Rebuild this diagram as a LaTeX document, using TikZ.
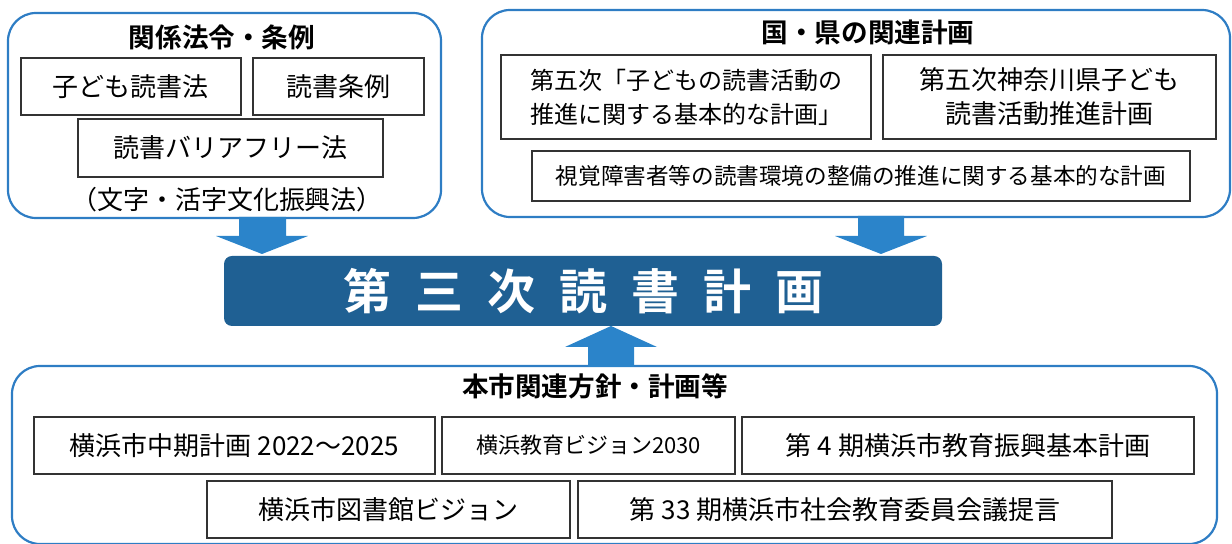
\documentclass[tikz,border=0pt]{standalone}
\usepackage{fontspec}
\setmainfont{Noto Sans CJK JP}[BoldFont={Noto Sans CJK JP Bold}]
\usetikzlibrary{positioning}
\definecolor{wakuiro}{RGB}{46,125,196}
\definecolor{yajiiro}{RGB}{43,132,202}
\definecolor{obiiro}{RGB}{31,96,147}
\newcommand{\aki}{\hspace{12pt}}
\tikzset{
  waku/.style={draw=wakuiro,line width=1.1pt,rounded corners=14pt,inner sep=0pt},
  hako/.style={draw=black!80,line width=0.6pt,inner sep=0pt,align=center,
    font=\fontsize{13pt}{17pt}\selectfont},
  midashi/.style={inner sep=0pt,font=\fontsize{13.3pt}{16pt}\selectfont\bfseries},
  yaji/.style={fill=yajiiro}
}

\begin{document}
\begin{tikzpicture}[x=0.5pt,y=-0.5pt]
            \useasboundingbox (0,0) rectangle (1232,544);
            \clip (0,0) rectangle (1232,544);
            % 関係法令
            \node[waku,minimum width=216.5pt,minimum height=102.5pt] (houki) at (224.5,115.5) {};
            \node[midashi] (houkiT) at (222,37) {関係法令・条例};
            \node[hako,minimum width=110pt,minimum height=28.5pt] (kodomo) at (131,86.5) {子ども読書法};
            \node[hako,minimum width=85.5pt,minimum height=28.5pt] (jorei) at (338.5,86.5) {読書条例};
            \node[hako,minimum width=152.5pt,minimum height=29pt] (bfree) at (230.5,148) {読書バリアフリー法};
            \node[inner sep=0pt,font=\fontsize{13pt}{15pt}\selectfont] (katsuji) at (227,200) {（文字・活字文化振興法）};
            % 国・県
            \node[waku,minimum width=374pt,minimum height=103.5pt] (kuni) at (856,113.5) {};
            \node[midashi] (kuniT) at (868,32) {国・県の関連計画};
            \node[hako,align=left,minimum width=185pt,minimum height=42pt,
                  font=\fontsize{12pt}{17pt}\selectfont] (kihon) at (686,97) {第五次「子どもの読書活動の\\推進に関する基本的な計画」};
            \node[hako,minimum width=166.5pt,minimum height=42pt] (kanagawa) at (1049.5,97) {第五次神奈川県子ども\\読書活動推進計画};
            \node[hako,minimum width=329pt,minimum height=25pt,
                  font=\fontsize{11.3pt}{14pt}\selectfont] (shikaku) at (861,176) {視覚障害者等の読書環境の整備の推進に関する基本的な計画};
            % 第三次読書計画
            \node[fill=obiiro,rounded corners=4pt,minimum width=359pt,minimum height=35pt,inner sep=0pt,
                  text=white,font=\fontsize{24pt}{28pt}\selectfont\bfseries] (keikaku) at (583,291)
                  {第\aki 三\aki 次\aki 読\aki 書\aki 計\aki 画};
            % 本市
            \node[waku,minimum width=602.5pt,minimum height=89pt] (honshi) at (614.5,455) {};
            \node[midashi] (honshiT) at (595,386) {本市関連方針・計画等};
            \node[hako,minimum width=200.5pt,minimum height=28.5pt] (chuki) at (234.5,445.5) {横浜市中期計画 2022～2025};
            \node[hako,minimum width=146.5pt,minimum height=28.5pt,
                  font=\fontsize{11pt}{14pt}\selectfont] (vision) at (588.5,445.5) {横浜教育ビジョン2030};
            \node[hako,minimum width=226pt,minimum height=28.5pt] (shinko) at (968,445.5) {第 4 期横浜市教育振興基本計画};
            \node[hako,minimum width=181.5pt,minimum height=28.5pt] (tosho) at (388.5,509.5) {横浜市図書館ビジョン};
            \node[hako,minimum width=267pt,minimum height=28.5pt] (teigen) at (845,509.5) {第 33 期横浜市社会教育委員会議提言};
            % 矢印
            \fill[yaji] (262,254) -- (216,236) -- (239,236) -- (239,217) -- (286,217) -- (286,236) -- (308,236) -- cycle;
            \fill[yaji] (881,254) -- (835,236) -- (858,236) -- (858,216) -- (904,216) -- (904,236) -- (927,236) -- cycle;
            \fill[yaji] (611,326) -- (565,347) -- (588,347) -- (588,367) -- (634,367) -- (634,347) -- (657,347) -- cycle;
\end{tikzpicture}
\end{document}
